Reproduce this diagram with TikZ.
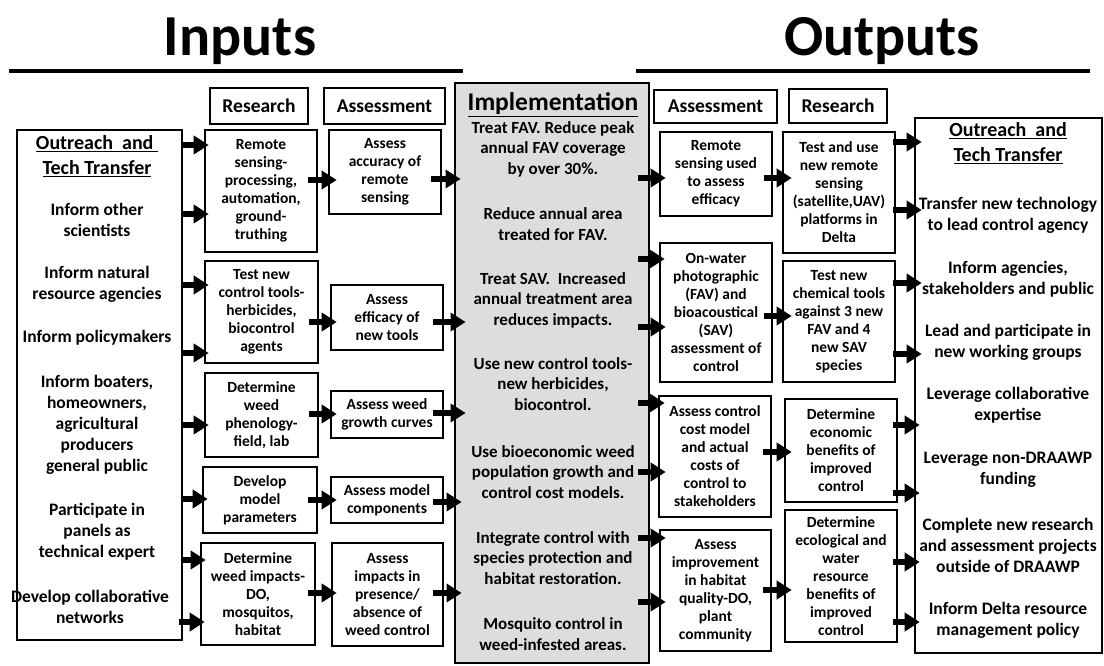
\documentclass[tikz,border=0pt]{standalone}
\usepackage{fontspec}
\setmainfont{Carlito}
\usetikzlibrary{arrows.meta,calc}
\definecolor{implgray}{RGB}{221,221,221}
\tikzset{
  box/.style={draw, line width=2.6pt, fill=white, align=center, inner sep=1pt,
    font=\bfseries\fontsize{15.5}{18}\selectfont},
  hdr/.style={draw, line width=2.6pt, fill=white, align=center, inner sep=1pt,
    font=\bfseries\fontsize{19.5}{22}\selectfont},
  impl/.style={draw, line width=2.8pt, fill=implgray, inner sep=0pt},
  otxt/.style={align=center, inner sep=0pt, font=\bfseries\fontsize{17.5}{21}\selectfont},
  ohead/.style={align=center, inner sep=0pt, font=\bfseries\fontsize{20}{25}\selectfont},
  itxt/.style={align=center, inner sep=0pt, font=\bfseries\fontsize{17}{20.5}\selectfont},
  ihead/.style={align=center, inner sep=0pt, font=\bfseries\fontsize{25.5}{28}\selectfont},
  title/.style={anchor=base, inner sep=0pt, font=\bfseries\fontsize{58}{60}\selectfont},
  rule/.style={line width=3.5pt},
  blk/.style={line width=6.5pt, -{Triangle[length=15pt,width=18pt]}},
}
\newcommand\mybox[7]{\node[#7, minimum width={(#4-#2)*1pt}, minimum height={(#5-#3)*1pt}] (#1) at ({(#2+#4)/2},{(#3+#5)/2}) {#6};}
\newcommand\arr[5]{\draw[blk] ($(#1.east|-0,#3)+(#4,0)$) -- ($(#2.west|-0,#3)+(#5,0)$);}
\begin{document}
\begin{tikzpicture}[x=1pt,y=-1pt]
\useasboundingbox (0,0) rectangle (1104,666);
\fill[white] (0,0) rectangle (1104,666);

% titles
\node[title] (tin) at (240,56) {Inputs};
\node[title] (tout) at (882,56) {Outputs};
\draw[rule] (9,71) -- (463,71);
\draw[rule] (636,71) -- (1090,71);

% headers
\mybox{hR}{210}{88}{308}{124}{Research}{hdr}
\mybox{hA}{324}{88}{445}{124}{Assessment}{hdr}
\mybox{hA2}{654}{90}{777}{123}{Assessment}{hdr}
\mybox{hR2}{789}{89}{887}{123}{Research}{hdr}

% left outreach
\mybox{Lo}{17}{130}{182}{640}{}{box}
\node[ohead] (lt0) at (97,156) {\underline{Outreach\ \ and\ }\\\underline{Tech Transfer}};
\node[otxt] (lt1) at (97,220) {Inform other\\scientists};
\node[otxt] (lt2) at (97,284) {Inform natural\\resource agencies};
\node[otxt] (lt3) at (97,338) {Inform policymakers};
\node[otxt] (lt4) at (97,424.5) {Inform boaters,\\homeowners,\\agricultural\\producers\\general public};
\node[otxt] (lt5) at (97,532) {Participate in\\panels as\\technical expert};
\node[otxt] (lt6) at (90,607) {Develop collaborative\\networks};

% research column (inputs)
\mybox{R1}{205}{130}{317}{252}{Remote\\sensing-\\processing,\\automation,\\ground-\\truthing}{box}
\mybox{R2}{205}{261}{318}{363}{Test new\\control tools-\\herbicides,\\biocontrol\\agents}{box}
\mybox{R3}{205}{373}{318}{457}{Determine\\weed\\phenology-\\field, lab}{box}
\mybox{R4}{203}{467}{317}{533}{Develop\\model\\parameters}{box}
\mybox{R5}{201}{543}{315}{645}{Determine\\weed impacts-\\DO,\\mosquitos,\\habitat}{box}

% assessment column (inputs)
\mybox{A1}{329}{130}{441}{214}{Assess\\accuracy of\\remote\\sensing}{box}
\mybox{A2}{331}{285}{443}{350}{Assess\\efficacy of\\new tools}{box}
\mybox{A3}{331}{391}{443}{438}{Assess weed\\growth curves}{box}
\mybox{A4}{331}{477}{443}{523}{Assess model\\components}{box}
\mybox{A5}{332}{543}{443}{646}{Assess\\impacts in\\presence/\\absence of\\weed control}{box}

% implementation
\mybox{Im}{455}{83}{649}{663}{}{impl}
\node[ihead] (it0) at (553,105) {\underline{Implementation}};
\node[itxt] (it1) at (553,149) {Treat FAV. Reduce peak\\annual FAV coverage\\by over 30\%.};
\node[itxt] (it2) at (553,224) {Reduce annual area\\treated for FAV.};
\node[itxt] (it3) at (553,300) {Treat SAV.\ \ Increased\\annual treatment area\\reduces impacts.};
\node[itxt] (it4) at (553,384) {Use new control tools-\\new herbicides,\\biocontrol.};
\node[itxt] (it5) at (553,472) {Use bioeconomic weed\\population growth and\\control cost models.};
\node[itxt] (it6) at (553,558) {Integrate control with\\species protection and\\habitat restoration.};
\node[itxt] (it7) at (553,634) {Mosquito control in\\weed-infested areas.};

% assessment column (outputs)
\mybox{RA1}{660}{132}{772}{216}{Remote\\sensing used\\to assess\\efficacy}{box}
\mybox{RA2}{660}{243}{772}{382}{On-water\\photographic\\(FAV) and\\bioacoustical\\(SAV)\\assessment of\\control}{box}
\mybox{RA3}{659}{396}{771}{517}{Assess control\\cost model\\and actual\\costs of\\control to\\stakeholders}{box}
\mybox{RA4}{660}{530}{771}{651}{Assess\\improvement\\in habitat\\quality-DO,\\plant\\community}{box}

% research column (outputs)
\mybox{RR1}{783}{132}{895}{253}{Test and use\\new remote\\sensing\\(satellite,UAV)\\platforms in\\Delta}{box}
\mybox{RR2}{783}{261}{895}{382}{Test new\\chemical tools\\against 3 new\\FAV and 4\\new SAV\\species}{box}
\mybox{RR3}{785}{399}{897}{502}{Determine\\economic\\benefits of\\improved\\control}{box}
\mybox{RR4}{785}{510}{897}{642}{Determine\\ecological and\\water\\resource\\benefits of\\improved\\control}{box}

% right outreach
\mybox{Ro}{915}{118}{1102}{653}{}{box}
\node[ohead] (rt0) at (1008,143.5) {\underline{Outreach\ \ and}\\\underline{Tech Transfer}};
\node[otxt] (rt1) at (1008,215) {Transfer new technology\\to lead control agency};
\node[otxt] (rt2) at (1008,279) {Inform agencies,\\stakeholders and public};
\node[otxt] (rt3) at (1008,342) {Lead and participate in\\new working groups};
\node[otxt] (rt4) at (1008,405) {Leverage collaborative\\expertise};
\node[otxt] (rt5) at (1008,470) {Leverage non-DRAAWP\\funding};
\node[otxt] (rt6) at (1008,545) {Complete new research\\and assessment projects\\outside of DRAAWP};
\node[otxt] (rt7) at (1008,620) {Inform Delta resource\\management policy};

% arrows
\arr{Lo}{R1}{145}{-2}{5}
\arr{Lo}{R1}{214}{-2}{5}
\arr{Lo}{R2}{285}{-2}{5}
\arr{Lo}{R2}{353}{-2}{5}
\arr{Lo}{R3}{425}{-2}{5}
\arr{Lo}{R4}{499}{-2}{6}
\arr{Lo}{R5}{560}{-2}{6}
\arr{Lo}{R5}{622}{-4}{5}

\arr{R1}{A1}{180}{-10}{9}
\arr{R2}{A2}{322}{-10}{7}
\arr{R3}{A3}{414}{-10}{7}
\arr{R4}{A4}{500}{-10}{7}
\arr{R5}{A5}{593}{-8}{6}

\arr{A1}{Im}{179}{-11}{7}
\arr{A2}{Im}{322}{-11}{12}
\arr{A3}{Im}{413}{-11}{12}
\arr{A4}{Im}{502}{-11}{8}
\arr{A5}{Im}{593}{-11}{8}

\arr{Im}{RA1}{178}{-12}{7}
\arr{Im}{RA2}{259}{-12}{6}
\arr{Im}{RA2}{327}{-12}{7}
\arr{Im}{RA3}{403}{-12}{7}
\arr{Im}{RA3}{472}{-12}{8}
\arr{Im}{RA4}{538}{-12}{7}
\arr{Im}{RA4}{602}{-12}{7}

\arr{RA1}{RR1}{178}{-9}{10}
\arr{RA2}{RR2}{316}{-9}{10}
\arr{RA3}{RR3}{452}{-9}{8}
\arr{RA4}{RR4}{590}{-9}{8}

\arr{RR1}{Ro}{142}{-3}{8}
\arr{RR1}{Ro}{210}{-3}{8}
\arr{RR2}{Ro}{283}{-3}{8}
\arr{RR2}{Ro}{354}{-3}{8}
\arr{RR3}{Ro}{425}{-5}{6}
\arr{RR3}{Ro}{493}{-5}{6}
\arr{RR4}{Ro}{562}{-5}{6}
\arr{RR4}{Ro}{622}{-5}{6}
\end{tikzpicture}
\end{document}
